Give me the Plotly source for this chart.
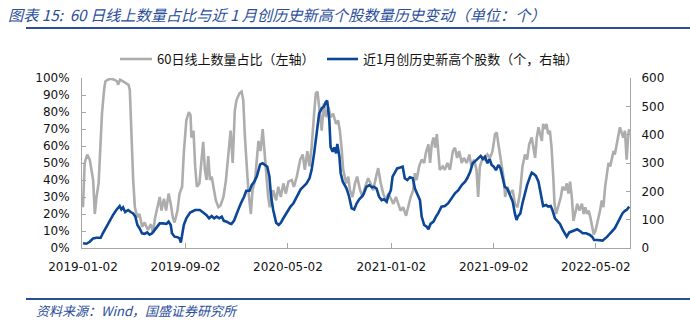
import plotly.graph_objects as go

gray_dates = ["2019-01-02","2019-01-06","2019-01-12","2019-01-18","2019-01-22","2019-01-26","2019-01-30","2019-02-03","2019-02-08","2019-02-12",
"2019-02-16","2019-02-21","2019-02-24","2019-03-02","2019-03-09","2019-03-17","2019-03-24","2019-03-26","2019-03-31","2019-04-07",
"2019-04-14","2019-04-20","2019-04-23","2019-04-27","2019-05-01","2019-05-05","2019-05-11","2019-05-16","2019-05-22","2019-05-28",
"2019-06-05","2019-06-12","2019-06-17","2019-06-22","2019-06-27","2019-07-03","2019-07-07","2019-07-13","2019-07-18","2019-07-24",
"2019-07-29","2019-08-03","2019-08-07","2019-08-14","2019-08-19","2019-08-25","2019-08-29","2019-09-04","2019-09-10","2019-09-14",
"2019-09-16","2019-09-21","2019-09-25","2019-09-29","2019-10-05","2019-10-10","2019-10-14","2019-10-18","2019-10-22","2019-10-26",
"2019-10-30","2019-11-03","2019-11-07","2019-11-13","2019-11-19","2019-11-24","2019-12-01","2019-12-07","2019-12-13","2019-12-18",
"2019-12-23","2019-12-28","2020-01-01","2020-01-08","2020-01-13","2020-01-17","2020-01-21","2020-01-25","2020-01-29","2020-02-04",
"2020-02-08","2020-02-14","2020-02-18","2020-02-22","2020-02-27","2020-03-03","2020-03-06","2020-03-11","2020-03-16","2020-03-20",
"2020-03-24","2020-03-28","2020-04-04","2020-04-09","2020-04-15","2020-04-21","2020-04-27","2020-05-03","2020-05-11","2020-05-16",
"2020-05-23","2020-05-31","2020-06-06","2020-06-11","2020-06-17","2020-06-22","2020-06-27","2020-07-03","2020-07-07","2020-07-11",
"2020-07-15","2020-07-21","2020-07-26","2020-07-31","2020-08-06","2020-08-11","2020-08-17","2020-08-24","2020-08-29","2020-09-02",
"2020-09-06","2020-09-10","2020-09-17","2020-09-22","2020-09-26","2020-10-02","2020-10-08","2020-10-13","2020-10-20","2020-10-26",
"2020-11-01","2020-11-08","2020-11-14","2020-11-20","2020-11-27","2020-12-02","2020-12-08","2020-12-14","2020-12-20","2020-12-26",
"2021-01-01","2021-01-07","2021-01-13","2021-01-19","2021-01-24","2021-01-30","2021-02-06","2021-02-11","2021-02-17","2021-02-23",
"2021-02-27","2021-03-03","2021-03-09","2021-03-15","2021-03-21","2021-03-25","2021-03-31","2021-04-04","2021-04-08","2021-04-12",
"2021-04-16","2021-04-20","2021-04-23","2021-04-27","2021-05-04","2021-05-09","2021-05-15","2021-05-21","2021-05-28","2021-06-02",
"2021-06-07","2021-06-12","2021-06-18","2021-06-23","2021-06-30","2021-07-06","2021-07-11","2021-07-17","2021-07-23","2021-07-27",
"2021-07-31","2021-08-07","2021-08-12","2021-08-18","2021-08-24","2021-08-30","2021-09-05","2021-09-09","2021-09-13","2021-09-17",
"2021-09-21","2021-09-26","2021-09-29","2021-10-04","2021-10-10","2021-10-17","2021-10-22","2021-10-28","2021-11-03","2021-11-09",
"2021-11-15","2021-11-20","2021-11-25","2021-12-01","2021-12-05","2021-12-09","2021-12-13","2021-12-17","2021-12-21","2021-12-25",
"2021-12-28","2022-01-01","2022-01-05","2022-01-09","2022-01-13","2022-01-17","2022-01-21","2022-01-24","2022-01-28","2022-02-02",
"2022-02-08","2022-02-12","2022-02-18","2022-02-22","2022-02-26","2022-03-02","2022-03-06","2022-03-10","2022-03-14","2022-03-19",
"2022-03-24","2022-03-30","2022-04-03","2022-04-07","2022-04-11","2022-04-15","2022-04-19","2022-04-23","2022-04-27","2022-05-01",
"2022-05-05","2022-05-08","2022-05-12","2022-05-16","2022-05-20","2022-05-24","2022-05-28","2022-06-01","2022-06-05","2022-06-09",
"2022-06-13","2022-06-16","2022-06-20","2022-06-24","2022-06-28","2022-07-02","2022-07-06","2022-07-10","2022-07-14","2022-07-18",
"2022-07-20"]

gray_pct = [24,50,55,52,46,40,20,30,38,58,
79,93,98,99,99.5,99,98,96,99,98,
97,96,93,65,40,24,18,20,12.5,15,
10.6,14,9,18,24,30,22,29,22,32,
26,18,15,22,32,36,56,75,80,78,
65,69,48,36,38,50,62.5,46,40,54,
40,42,36,28,24,25,30,40,56,69,
50,81,87,91,92,87,65,46,34,20,
34,40,50,63,57,70,61,46,30,24,
28,34,28,36,30,38,32,39,40,36,
42,52,55,46,57,48,59,79,91,92,
83,69,85,77,83,77,79,73,75,69,
59,46,38,42,34,30,38,42,34,30,
36,41,38,34,42,47,38,32,28,32,
29,26,30,26,22,24,19,24,30,34,
44,40,48,52,50,56,61,50,61,65,
59,67,57,46,48,46,50,46,57,59,
53,57,50,53,50,55,48,52,46,30,
48,53,52,55,53,57,67,68,61,55,
50,40,30,36,32,34,26,24,32,48,
55,52,61,65,59,53,65,71,67,63,
73,70,73,67,69,59,42,26,20,24,
30,36,34,38,32,39,30,16,20,26,
22,26,20,24,20,22,18,12,8,10,
14,18,22,28,24,36,42,50,48,53,
57,55,61,67,71,68,65,69,52,67,
70]

blue_dates = ["2019-01-02","2019-01-10","2019-01-18","2019-01-26","2019-02-03","2019-02-13","2019-02-18","2019-02-26","2019-03-06","2019-03-14",
"2019-03-22","2019-03-30","2019-04-03","2019-04-07","2019-04-12","2019-04-19","2019-04-25","2019-05-01","2019-05-06","2019-05-11",
"2019-05-16","2019-05-22","2019-05-28","2019-06-03","2019-06-09","2019-06-15","2019-06-21","2019-06-27","2019-07-03","2019-07-11",
"2019-07-19","2019-07-24","2019-07-29","2019-08-01","2019-08-07","2019-08-14","2019-08-19","2019-08-22","2019-08-25","2019-08-29",
"2019-09-04","2019-09-10","2019-09-13","2019-09-25","2019-10-06","2019-10-14","2019-10-22","2019-10-28","2019-11-03","2019-11-09",
"2019-11-15","2019-11-21","2019-11-27","2019-12-02","2019-12-09","2019-12-15","2019-12-20","2019-12-26","2020-01-01","2020-01-08",
"2020-01-13","2020-01-19","2020-01-24","2020-02-01","2020-02-06","2020-02-12","2020-02-18","2020-02-22","2020-02-26","2020-03-03",
"2020-03-09","2020-03-14","2020-03-19","2020-03-23","2020-03-28","2020-04-04","2020-04-10","2020-04-15","2020-04-21","2020-04-27",
"2020-05-03","2020-05-08","2020-05-15","2020-05-21","2020-05-26","2020-06-01","2020-06-07","2020-06-15","2020-06-22","2020-06-27",
"2020-07-03","2020-07-09","2020-07-15","2020-07-21","2020-07-26","2020-07-31","2020-08-03","2020-08-08","2020-08-11","2020-08-16",
"2020-08-20","2020-08-24","2020-08-27","2020-09-01","2020-09-04","2020-09-09","2020-09-14","2020-09-18","2020-09-24","2020-09-30",
"2020-10-06","2020-10-12","2020-10-18","2020-10-24","2020-10-29","2020-11-04","2020-11-11","2020-11-17","2020-11-22","2020-11-28",
"2020-12-04","2020-12-10","2020-12-16","2020-12-22","2020-12-26","2021-01-01","2021-01-05","2021-01-11","2021-01-16","2021-01-23",
"2021-01-29","2021-02-03","2021-02-09","2021-02-15","2021-02-22","2021-02-27","2021-03-05","2021-03-11","2021-03-15","2021-03-21",
"2021-03-27","2021-03-31","2021-04-05","2021-04-12","2021-04-18","2021-04-23","2021-05-01","2021-05-09","2021-05-17","2021-05-25",
"2021-06-02","2021-06-10","2021-06-18","2021-06-26","2021-07-01","2021-07-08","2021-07-14","2021-07-19","2021-07-23","2021-07-27",
"2021-08-02","2021-08-07","2021-08-12","2021-08-18","2021-08-23","2021-08-28","2021-09-02","2021-09-07","2021-09-13","2021-09-18",
"2021-09-23","2021-09-28","2021-10-04","2021-10-10","2021-10-17","2021-10-22","2021-10-26","2021-10-29","2021-11-04","2021-11-09",
"2021-11-15","2021-11-20","2021-11-27","2021-12-01","2021-12-06","2021-12-11","2021-12-17","2021-12-21","2021-12-25","2021-12-28",
"2022-01-04","2022-01-09","2022-01-15","2022-01-19","2022-01-25","2022-01-31","2022-02-06","2022-02-12","2022-02-18","2022-02-22",
"2022-02-28","2022-03-08","2022-03-14","2022-03-19","2022-03-26","2022-04-01","2022-04-09","2022-04-17","2022-04-23","2022-04-28",
"2022-05-06","2022-05-12","2022-05-18","2022-05-24","2022-05-29","2022-06-05","2022-06-11","2022-06-16","2022-06-22","2022-06-28",
"2022-07-04","2022-07-10","2022-07-15","2022-07-20"]

blue_cnt = [17,15,22,34,36,36,52,75,93,116,
134,148,136,143,127,134,127,122,111,81,
70,52,50,55,47,52,64,75,87,87,
85,93,81,52,40,38,34,19,52,81,
105,122,125,134,134,125,116,105,113,105,
111,105,111,96,93,87,85,96,122,146,
163,181,202,202,222,234,252,275,295,299,
293,287,252,181,134,89,81,89,105,122,
134,146,158,175,190,207,216,228,246,275,
334,416,475,493,499,516,520,452,357,340,
355,334,367,322,264,234,222,210,181,140,
136,158,172,181,193,216,222,214,216,210,
181,169,172,163,184,204,252,269,281,284,
287,246,240,250,246,210,187,169,111,81,
75,66,85,93,111,122,146,148,158,175,
193,204,222,234,246,269,299,305,311,316,
325,314,322,299,314,293,287,275,293,281,
252,216,210,187,163,122,99,111,122,158,
193,222,252,266,261,254,234,204,169,148,
152,146,148,134,105,93,85,66,52,40,
55,59,62,66,59,52,52,47,40,28,
28,26,26,34,40,52,62,70,87,105,
122,131,136,146]

tick_dates = ["2019-01-02", "2019-09-02", "2020-05-02", "2021-01-02", "2021-09-02", "2022-05-02"]
pct_ticks = [0, 0.1, 0.2, 0.3, 0.4, 0.5, 0.6, 0.7, 0.8, 0.9, 1.0]
cnt_ticks = [0, 100, 200, 300, 400, 500, 600]

gray_name = "60日线上数量占比（左轴）"
blue_name = "近1月创历史新高个股数（个，右轴）"
title_text = "图表 15:  60 日线上数量占比与近 1 月创历史新高个股数量历史变动（单位：个）"
source_text = "资料来源：Wind，国盛证券研究所"

GRAY = "#ADADAD"
BLUE = "#0C4697"
TITLE_BLUE = "#2A4E9C"
AXIS = "#A6A6A6"

W, H = 690, 323
ML, MR, MT, MB = 82, 60, 78, 75
plot_w = W - ML - MR
plot_h = H - MT - MB


def px_x(px):
    return (px - ML) / plot_w


def px_y(py):
    return (H - MB - py) / plot_h


fig = go.Figure()
fig.add_trace(go.Scatter(
    x=gray_dates, y=[v / 100 for v in gray_pct], mode="lines",
    name=gray_name, line=dict(color=GRAY, width=2.6), showlegend=False))
fig.add_trace(go.Scatter(
    x=blue_dates, y=blue_cnt, mode="lines", yaxis="y2",
    name=blue_name, line=dict(color=BLUE, width=2.6), showlegend=False))

tick_font = dict(family="DejaVu Sans", size=12, color="#111111")

fig.update_layout(
    width=W, height=H,
    margin=dict(l=ML, r=MR, t=MT, b=MB),
    paper_bgcolor="white", plot_bgcolor="white",
    showlegend=False,
    xaxis=dict(type="date", range=["2018-12-30 15:00", "2022-07-22"],
               tickvals=tick_dates, ticktext=tick_dates,
               showgrid=False, zeroline=False, showline=True, linecolor=AXIS, linewidth=1,
               ticks="inside", ticklen=5, tickcolor=AXIS, tickfont=tick_font,
               ticklabelstandoff=8),
    yaxis=dict(range=[0, 1.0], tickvals=pct_ticks, tickformat=".0%",
               showgrid=False, zeroline=False, showline=True, linecolor=AXIS, linewidth=1,
               ticks="inside", ticklen=4, tickcolor=AXIS, tickfont=tick_font, ticklabelstandoff=9),
    yaxis2=dict(range=[0, 600], tickvals=cnt_ticks, overlaying="y", side="right",
                showgrid=False, zeroline=False, showline=True, linecolor=AXIS, linewidth=1,
                ticks="inside", ticklen=4, tickcolor=AXIS, tickfont=tick_font, ticklabelstandoff=8),
)

legend_font = dict(family="Noto Sans CJK SC", size=13, color="#111111")
fig.add_shape(type="line", xref="paper", yref="paper",
              x0=px_x(120), x1=px_x(152), y0=px_y(59), y1=px_y(59),
              line=dict(color=GRAY, width=2.6))
fig.add_shape(type="line", xref="paper", yref="paper",
              x0=px_x(327), x1=px_x(358), y0=px_y(59), y1=px_y(59),
              line=dict(color=BLUE, width=2.6))
fig.add_annotation(text=gray_name, xref="paper", yref="paper",
                   x=px_x(155), xanchor="left", y=px_y(59), yanchor="middle",
                   showarrow=False, font=legend_font)
fig.add_annotation(text=blue_name, xref="paper", yref="paper",
                   x=px_x(361), xanchor="left", y=px_y(59), yanchor="middle",
                   showarrow=False, font=legend_font)

fig.add_annotation(
    text="<i>" + title_text + "</i>",
    xref="paper", yref="paper", x=px_x(6), xanchor="left", y=px_y(14), yanchor="middle",
    showarrow=False, font=dict(family="Noto Sans CJK SC", size=15.2, color=TITLE_BLUE))
fig.add_annotation(
    text="<i>" + source_text + "</i>",
    xref="paper", yref="paper", x=px_x(34), xanchor="left", y=px_y(310), yanchor="middle",
    showarrow=False, font=dict(family="Noto Sans CJK SC", size=13, color=TITLE_BLUE))

fig.add_shape(type="line", xref="paper", yref="paper",
              x0=px_x(26), x1=px_x(690), y0=px_y(28), y1=px_y(28),
              line=dict(color=TITLE_BLUE, width=2))
fig.add_shape(type="line", xref="paper", yref="paper",
              x0=px_x(26), x1=px_x(690), y0=px_y(299), y1=px_y(299),
              line=dict(color=TITLE_BLUE, width=2))

fig.write_html("out.html")
